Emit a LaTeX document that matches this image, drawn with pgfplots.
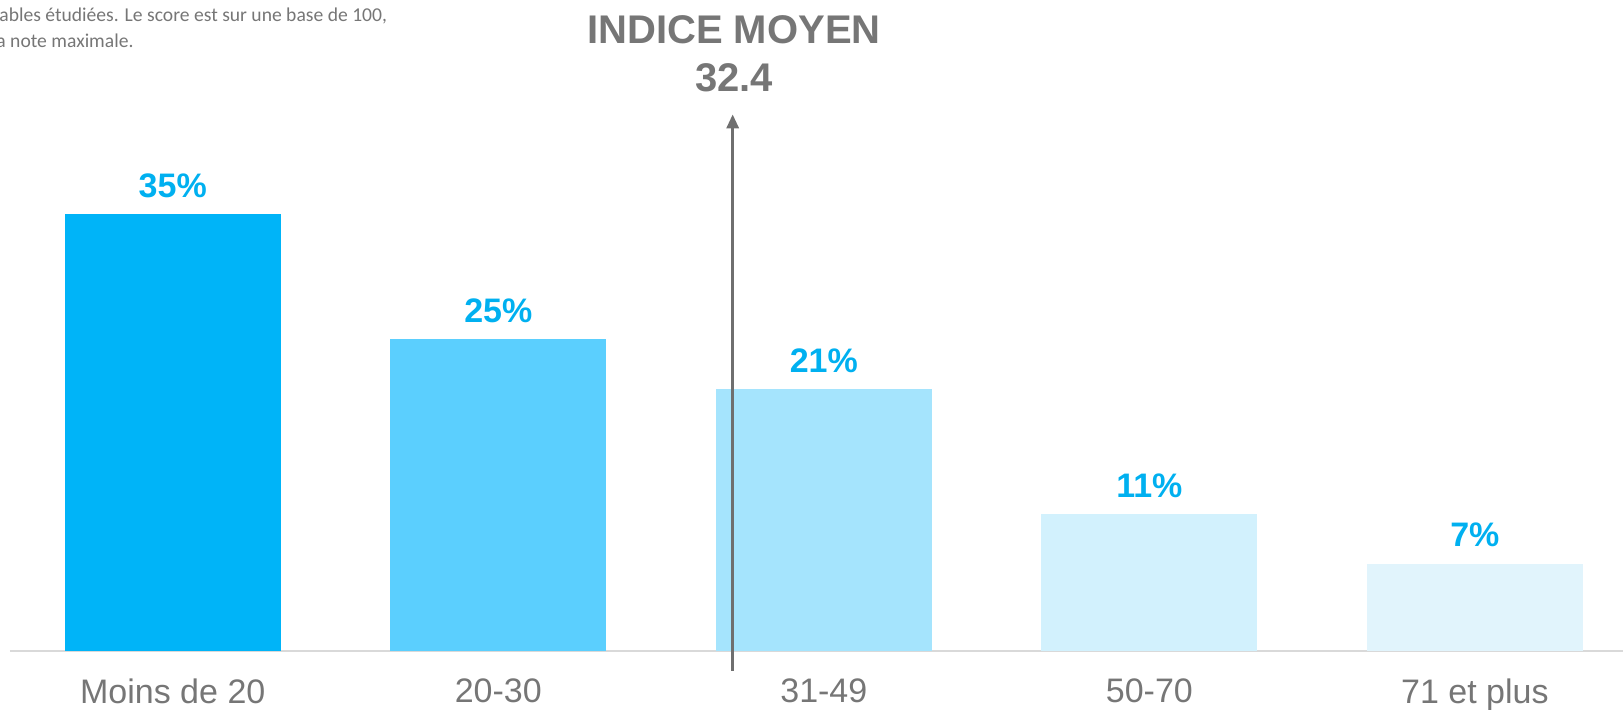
\documentclass[border=0pt]{standalone}
\usepackage{pgfplots}
\pgfplotsset{compat=1.18}
\usepackage{fontspec}
\setmainfont{Liberation Sans}
\newfontfamily\notefont{Carlito}
\usetikzlibrary{arrows.meta}
\definecolor{barA}{HTML}{00B4F8}
\definecolor{barB}{HTML}{5BCFFE}
\definecolor{barC}{HTML}{A5E4FD}
\definecolor{barD}{HTML}{D2F1FD}
\definecolor{barE}{HTML}{E1F4FC}
\definecolor{lblblue}{HTML}{00B0F0}
\definecolor{txtgray}{HTML}{767676}
\definecolor{arrowgray}{HTML}{6F6F6F}
\definecolor{axgray}{HTML}{D9D9D9}
\begin{document}
\begin{tikzpicture}
\begin{axis}[
  at={(5pt,29.5pt)}, anchor=south west,
  scale only axis, width=806.5pt, height=312pt,
  xmin=-0.5, xmax=4.455, ymin=0, ymax=50,
  axis x line*=bottom, axis y line=none,
  x axis line style={draw=axgray, line width=1pt, -},
  xtick={0,1,2,3,4},
  xticklabels={Moins de 20,20-30,31-49,50-70,71 et plus},
  major tick length=0pt,
  /pgf/number format/assume math mode=true,
  xticklabel style={font=\fontsize{17}{20}\selectfont, text=txtgray, anchor=north, inner sep=0pt, yshift=-13.5pt},
  ybar, bar width=108pt, bar shift=0pt,
  clip=false,
  nodes near coords={\pgfmathprintnumber{\pgfplotspointmeta}\%},
  every node near coord/.append style={font=\bfseries\fontsize{17}{20}\selectfont, text=lblblue, anchor=south, inner sep=0pt, yshift=8pt},
]
\addplot[fill=barA, draw=none] coordinates {(0,35)};
\addplot[fill=barB, draw=none] coordinates {(1,25)};
\addplot[fill=barC, draw=none] coordinates {(2,21)};
\addplot[fill=barD, draw=none] coordinates {(3,11)};
\addplot[fill=barE, draw=none] coordinates {(4,7)};
\addplot[sharp plot, draw=arrowgray, line width=1.5pt, -{Triangle[length=7pt,width=6pt]}, nodes near coords={}] coordinates {(1.72,-1.58) (1.72,43)};
\node[font=\bfseries\fontsize{20}{24}\selectfont, text=txtgray] at (axis cs:1.724,49.8) {INDICE MOYEN};
\node[font=\bfseries\fontsize{20}{24}\selectfont, text=txtgray] at (axis cs:1.724,45.9) {32.4};
\end{axis}
\node[anchor=north west, inner sep=0pt, font=\notefont\fontsize{9.8}{11.5}\selectfont, text=txtgray] at (-0.5pt,351pt) {ables étudiées. Le score est sur une base de 100,};
\node[anchor=north west, inner sep=0pt, font=\notefont\fontsize{9.8}{11.5}\selectfont, text=txtgray] at (-2pt,338pt) {a note maximale.};
\pgfresetboundingbox
\path (0,0) rectangle (811.5pt,355pt);
\end{tikzpicture}
\end{document}
